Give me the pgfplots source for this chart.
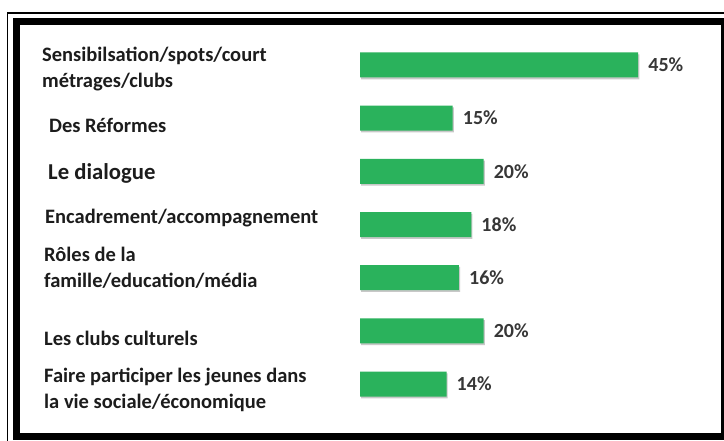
\documentclass[border=0pt]{standalone}
\usepackage{pgfplots}
\pgfplotsset{compat=1.18}
\usepackage{fontspec}
\setmainfont{Carlito}
\usetikzlibrary{shadows}
\definecolor{bargreen}{RGB}{42,178,92}
\definecolor{lbl}{RGB}{28,28,28}
\definecolor{val}{RGB}{55,55,55}
\begin{document}
\begin{tikzpicture}[x=1pt,y=1pt]
\useasboundingbox (0,0) rectangle (724,440);
\begin{scope}
\clip (0,0) rectangle (724,440);
\fill[white] (0,0) rectangle (724,440);
\draw[line width=1.8pt] (7.5,-5) -- (7.5,427.3) -- (730,427.3);
\draw[line width=7pt] (16.8,3.5) rectangle (724.5,418.4);
\end{scope}
\begin{axis}[
  at={(360pt,29.4pt)}, anchor=south west,
  scale only axis, width=340pt, height=372.2pt,
  xmin=0, xmax=55, ymin=0.5, ymax=7.5,
  hide axis, clip=false,
  xbar, bar width=25pt,
  point meta=x,
  nodes near coords={\pgfmathprintnumber{\pgfplotspointmeta}\%},
  nodes near coords style={font=\fontsize{20}{24}\selectfont\bfseries, text=val, anchor=west, inner sep=0pt, xshift=10pt,
    /pgf/number format/assume math mode=true},
]
\addplot[fill=bargreen, draw=none, drop shadow={shadow xshift=1.2pt, shadow yshift=-1.8pt, opacity=0.3, fill=black!70}] coordinates {
(45,7) (15,6) (20,5) (18,4) (16,3) (20,2) (14,1)
};
\end{axis}
\begin{scope}[every node/.style={anchor=west, align=left, inner sep=0pt, text=lbl, font=\fontsize{20.5}{26}\selectfont\bfseries}]
\node at (42,370.5) {Sensibilsation/spots/court\\métrages/clubs};
\node at (49,315) {Des Réformes};
\node[font=\fontsize{22.7}{27}\selectfont\bfseries] at (48,267) {Le dialogue};
\node at (45,222) {Encadrement/accompagnement};
\node at (44,172) {Rôles de la\\famille/education/média};
\node at (44,102) {Les clubs culturels};
\node at (44,50) {Faire participer les jeunes dans\\la vie sociale/économique};
\end{scope}
\end{tikzpicture}
\end{document}
